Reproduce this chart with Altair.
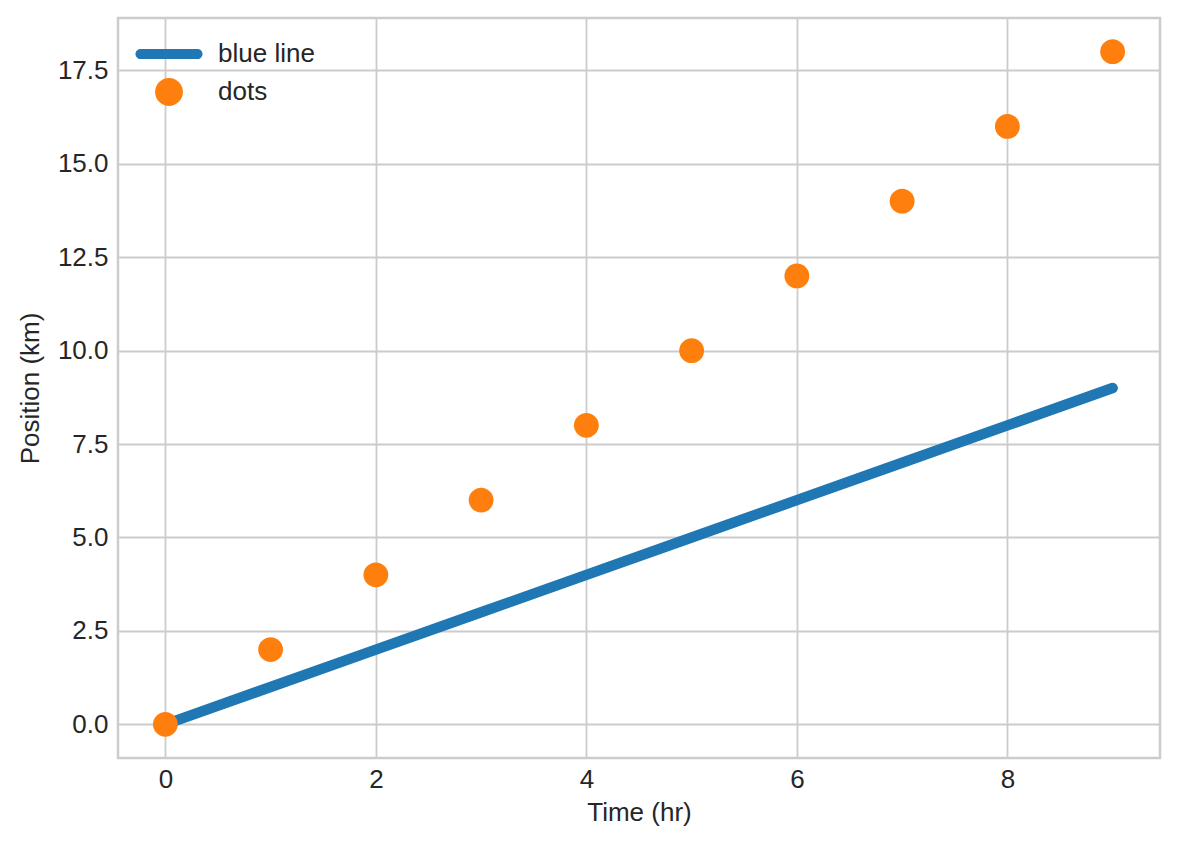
import altair as alt
import pandas as pd

time_hr = [0, 1, 2, 3, 4, 5, 6, 7, 8, 9]
line_km = [0, 1, 2, 3, 4, 5, 6, 7, 8, 9]
dots_km = [0, 2, 4, 6, 8, 10, 12, 14, 16, 18]
series_names = ["blue line", "dots"]
series_colors = ["#1f77b4", "#ff7f0e"]

line_df = pd.DataFrame({"t": time_hr, "pos": line_km, "series": "blue line"})
dots_df = pd.DataFrame({"t": time_hr, "pos": dots_km, "series": "dots"})

FONT = "Liberation Sans"
TXT = "#262626"

x_enc = alt.X("t:Q", title="Time (hr)",
              scale=alt.Scale(domain=[-0.45, 9.45], nice=False, zero=False),
              axis=alt.Axis(values=[0, 2, 4, 6, 8], format="d"))
y_enc = alt.Y("pos:Q", title="Position (km)",
              scale=alt.Scale(domain=[-0.9, 18.9], nice=False, zero=False),
              axis=alt.Axis(values=[0, 2.5, 5, 7.5, 10, 12.5, 15, 17.5], format=".1f"))

line_shape = "M-1.8,-0.32L1.8,-0.32A0.32,0.32 0 0,1 1.8,0.32L-1.8,0.32A0.32,0.32 0 0,1 -1.8,-0.32Z"
circle_shape = "M0.88,0A0.88,0.88 0 1,1 -0.88,0A0.88,0.88 0 1,1 0.88,0Z"

line = alt.Chart(line_df).mark_line(strokeWidth=10.5, strokeCap="round", color="#1f77b4").encode(
    x=x_enc, y=y_enc
)

dots = alt.Chart(dots_df).mark_point(filled=True, size=800, opacity=1, shape="circle").encode(
    x=x_enc, y=y_enc,
    color=alt.Color("series:N", scale=alt.Scale(domain=series_names, range=series_colors),
                    legend=alt.Legend(title=None, orient="none", legendX=35, legendY=20,
                                      symbolSize=1000, symbolOpacity=1,
                                      labelOffset=33, rowPadding=9,
                                      labelFontSize=26, labelFont=FONT, labelColor=TXT,
                                      symbolStrokeWidth=0)),
    shape=alt.Shape("series:N", scale=alt.Scale(domain=series_names, range=[line_shape, circle_shape]),
                    legend=None),
)

chart = alt.layer(line, dots).properties(
    width=1042, height=740,
    autosize=alt.AutoSizeParams(type="none"),
    padding={"left": 110, "top": 10, "right": 10, "bottom": 80},
    background="white",
).configure_view(
    stroke="#cccccc", strokeWidth=2.5
).configure_axis(
    grid=True, gridColor="#cccccc", gridWidth=1.8,
    domain=False, ticks=False,
    labelFont=FONT, labelFontSize=26, labelColor=TXT,
    titleFont=FONT, titleFontSize=26, titleColor=TXT, titleFontWeight="normal",
).configure_axisX(titlePadding=7, labelPadding=8).configure_axisY(titlePadding=14, labelPadding=10)

chart.save("out.html", embed_options={"renderer": "svg", "actions": False})
